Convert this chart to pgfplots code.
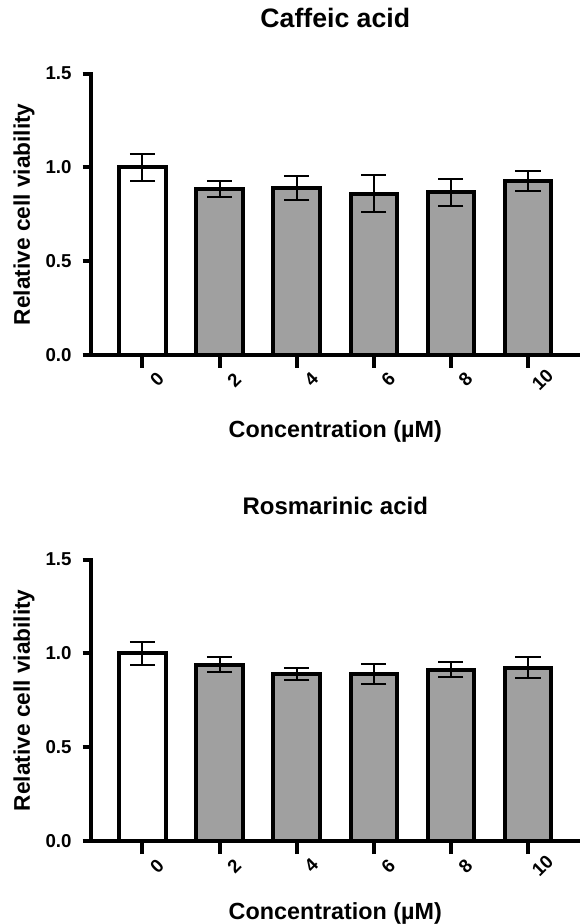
\documentclass[border=0pt]{standalone}
\usepackage{fontspec}
\setmainfont{Liberation Sans}
\usepackage{pgfplots}
\pgfplotsset{compat=1.18}
\definecolor{bargray}{RGB}{160,160,160}

\pgfplotsset{
  cellstyle/.style={
    width=367.1pt, height=211pt, scale only axis,
    xmin=-0.673, xmax=5.676, ymin=0, ymax=1.5,
    clip=false,
    axis x line=bottom, axis y line=left,
    axis line style={-, line width=3pt, black, line cap=rect},
    tick align=outside, major tick length=9.75pt,
    tick style={line width=3pt, black},
    ytick style={/pgfplots/major tick length=6pt},
    xtick={0,1,2,3,4,5}, xticklabels={0,2,4,6,8,10},
    ytick={0,0.5,1,1.5}, yticklabels={0.0,0.5,1.0,1.5},
    tick label style={font=\fontsize{14}{16}\selectfont\bfseries},
    x tick label style={rotate=45, anchor=center, yshift=-14pt, xshift=1.5pt},
    y tick label style={xshift=-1pt},
    xlabel style={anchor=base, font=\fontsize{17.5}{20}\selectfont\bfseries},
    ylabel style={at={(axis description cs:-0.1359,0.5)}, anchor=center, rotate=0, font=\fontsize{17}{20}\selectfont\bfseries},
    xlabel={Concentration (µM)},
    ylabel={Relative cell viability},
    ybar, bar width=0.6, bar shift=0pt,
  },
  barplot/.style={draw=black, line width=3pt,
    error bars/y dir=both, error bars/y explicit,
    error bars/error bar style={line width=1.5pt, black},
    error bars/error mark options={rotate=90, line width=1.5pt, black, mark size=9.5pt}},
}

\begin{document}
\begin{tikzpicture}
\path[use as bounding box] (0,0) rectangle (435pt,693pt);

\begin{axis}[cellstyle, at={(67.9pt,426.75pt)}, anchor=south west,
  title={Caffeic acid},
  title style={at={(axis description cs:0.5,1.1363)}, anchor=base, font=\fontsize{20}{24}\selectfont\bfseries},
  xlabel style={at={(axis description cs:0.5,-0.2918)}}]
\addplot[barplot, fill=white] coordinates {(0,1.000) +- (0,0.070)};
\addplot[barplot, fill=bargray] coordinates {
(1,0.885) +- (0,0.045)
(2,0.890) +- (0,0.066)
(3,0.860) +- (0,0.100)
(4,0.867) +- (0,0.072)
(5,0.929) +- (0,0.054)
};
\end{axis}

\begin{axis}[cellstyle, at={(67.9pt,62.25pt)}, anchor=south west,
  title={Rosmarinic acid},
  title style={at={(axis description cs:0.5,1.131)}, anchor=base, font=\fontsize{18}{22}\selectfont\bfseries},
  xlabel style={at={(axis description cs:0.5,-0.2776)}}]
\addplot[barplot, fill=white] coordinates {(0,1.000) +- (0,0.062)};
\addplot[barplot, fill=bargray] coordinates {
(1,0.940) +- (0,0.040)
(2,0.890) +- (0,0.030)
(3,0.890) +- (0,0.055)
(4,0.913) +- (0,0.040)
(5,0.925) +- (0,0.058)
};
\end{axis}
\end{tikzpicture}
\end{document}
